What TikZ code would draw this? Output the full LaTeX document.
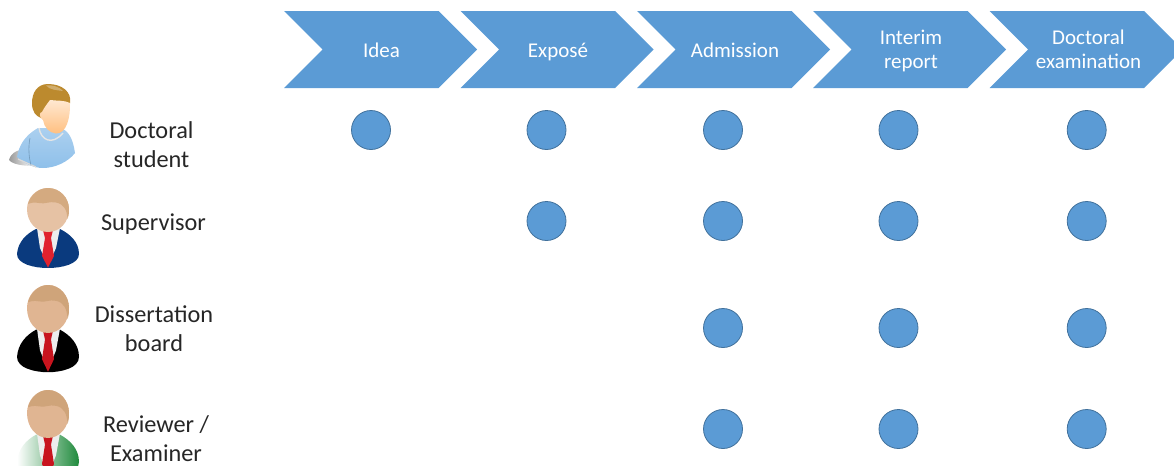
\documentclass[tikz,border=0pt]{standalone}
\usepackage{fontspec}
\setmainfont{Carlito}
\definecolor{blu}{HTML}{5B9BD5}
\definecolor{blued}{HTML}{41719C}
\definecolor{hairc}{HTML}{D4AA80}
\definecolor{facec}{HTML}{E6C2A4}
\definecolor{navy}{HTML}{0A3A7E}
\definecolor{tier}{HTML}{E0222E}
\definecolor{tied}{HTML}{C8141E}
\definecolor{shirt}{HTML}{8FC0EA}
\definecolor{gold}{HTML}{BC8A2E}
\definecolor{leaf}{HTML}{1F8A3C}
\newcommand{\manhead}{%
  \fill[facec] (48,0) .. controls (60,0) and (69,10) .. (69,21) .. controls (69,34) and (60,44) .. (48,44) .. controls (36,44) and (27,34) .. (27,21) .. controls (27,10) and (36,0) .. (48,0) -- cycle;
  \fill[hairc] (48,0) .. controls (60,0) and (69,10) .. (69,21) .. controls (69,26) and (68.5,29) .. (67.5,31) .. controls (67,22) and (64,16) .. (56,14.5) .. controls (49,13) and (45,16.5) .. (39,15) .. controls (34,14) and (30,15) .. (28,16) .. controls (30,8) and (38,0) .. (48,0) -- cycle;
}
\newcommand{\manbody}{(17,66) .. controls (18,54) and (26,46) .. (36,41) -- (60,41) .. controls (70,46) and (79,54) .. (79,66) .. controls (79,76) and (62,80) .. (48,80) .. controls (34,80) and (17,76) .. (17,66) -- cycle}
\newcommand{\mantie}[1]{%
  \fill[black!7] (37,40) -- (60,40) -- (56,60) -- (48,78) -- (40,60) -- cycle;
  \fill[#1] (43,42) -- (53,42) -- (51,50) -- (54,68) -- (48,79.5) -- (42,68) -- (45,50) -- cycle;
}
\begin{document}
\begin{tikzpicture}[x=1pt,y=-1pt,
  chev/.style={fill=blu,draw=none},
  chevtext/.style={text=white,font=\fontsize{21}{24}\selectfont,align=center,inner sep=0pt,anchor=base},
  dot/.style={circle,fill=blu,draw=blued,line width=0.8pt,minimum size=39pt,inner sep=0pt},
  lab/.style={text=black!85,font=\fontsize{24.3}{29}\selectfont,align=center,inner sep=0pt,anchor=base}]
\useasboundingbox (0,0) rectangle (1174,466);
% chevrons
\foreach \n/\x in {a/284,b/460.5,c/637,d/813,e/989.5}{
  \path[chev] (\x,11) -- ++(154.5,0) -- ++(38.5,38.5) -- ++(-38.5,38.5) -- ++(-154.5,0) -- ++(38.5,-38.5) -- cycle;
}
\node[chevtext] (ta) at (381.5,57) {Idea};
\node[chevtext] (tb) at (558,57) {Exposé};
\node[chevtext] (tc) at (735,57) {Admission};
\node[chevtext] (td) at (911,68) {Interim\\report};
\node[chevtext] (te) at (1088.5,68) {Doctoral\\examination};
% dots
\foreach \n/\x/\y in {a1/371/130,b1/546.5/130,c1/723/130,d1/898.5/130,e1/1086.7/130,
  b2/546.5/221,c2/723/221,d2/898.5/221,e2/1086.7/221,
  c3/723/328,d3/898.5/328,e3/1086.7/328,
  c4/723/429,d4/898.5/429,e4/1086.7/429}{
  \node[dot] (\n) at (\x,\y) {};
}
% labels
\node[lab] (l1) at (151.5,167) {Doctoral\\student};
\node[lab] (l2) at (153.5,230) {Supervisor};
\node[lab] (l3) at (154,351) {Dissertation\\board};
\node[lab] (l4) at (156,461) {Reviewer /\\Examiner};
% student
\shade[left color=black!40,right color=white] (9,160) .. controls (11,152) and (20,148) .. (30,150) -- (34,166) .. controls (22,166) and (12,164) .. (9,160) -- cycle;
\shade[top color=shirt!75!white,bottom color=shirt] (17,157) .. controls (19,146) and (24,136) .. (38,128) -- (60,128) .. controls (68,130) and (73,138) .. (75,153) .. controls (68,162) and (55,168) .. (43,168) .. controls (33,168) and (24,163) .. (17,157) -- cycle;
\draw[white!90!black,line width=1.4pt] (39,128) .. controls (41,140) and (52,146) .. (63,133);
\draw[white!85!black,line width=1.2pt] (18,159) -- (36,167);
\draw[shirt!80!black,line width=0.6pt] (30,138) .. controls (28,148) and (29,158) .. (31,165);
\fill[gold] (48,84) .. controls (37,84) and (32,93) .. (32,103) .. controls (32,112) and (36,116) .. (41,118) -- (70,103) .. controls (72,92) and (62,84) .. (48,84) -- cycle;
\fill[gold!70!white] (46,85.5) .. controls (52,84.5) and (60,87) .. (63,91) .. controls (56,90) and (50,90) .. (46,85.5) -- cycle;
\shade[top color=orange!18!white,bottom color=orange!50!white] (50,100) .. controls (57,101) and (64,100) .. (70,103) .. controls (70.5,116) and (67,134) .. (56,133.5) .. controls (49,133) and (44,127) .. (43,120) .. controls (39,118) and (39,112) .. (42,112) .. controls (44,108) and (47,104) .. (50,100) -- cycle;
% supervisor
\begin{scope}[shift={(0,188)}]
  \fill[navy] \manbody; \mantie{tier} \manhead
\end{scope}
% board
\begin{scope}[shift={(0,285)},yscale=1.09]
  \definecolor{facec}{HTML}{E0B592}
  \definecolor{hairc}{HTML}{CFA47A}
  \fill[black] \manbody; \mantie{tied} \manhead
\end{scope}
% reviewer
\begin{scope}[shift={(0,390)},yscale=1.09]
  \definecolor{facec}{HTML}{E0B592}
  \definecolor{hairc}{HTML}{CFA47A}
  \clip (0,0) rectangle (100,69.7);
  \shade[shading angle=75,left color=white,right color=leaf] \manbody; \mantie{tied} \manhead
\end{scope}
\end{tikzpicture}
\end{document}
